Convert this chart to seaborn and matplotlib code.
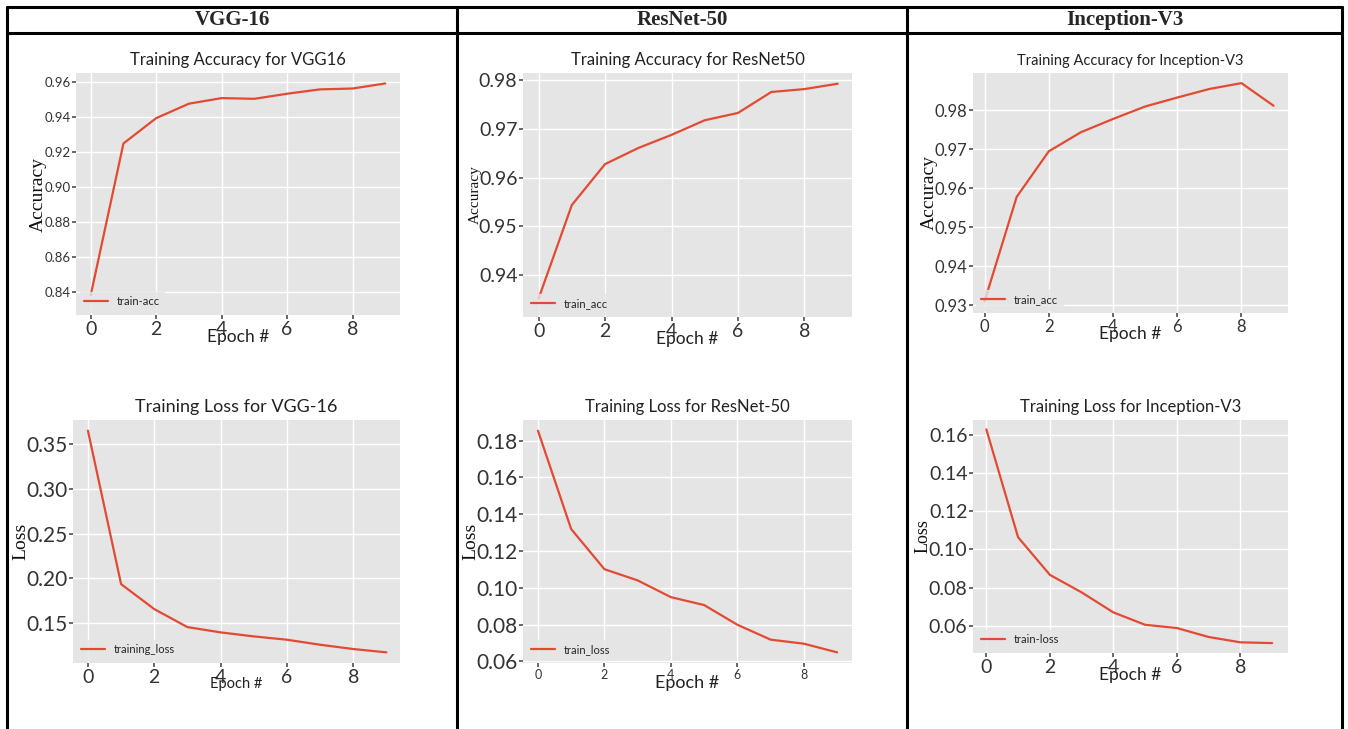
import numpy as np
import pandas as pd
import seaborn as sns
import matplotlib.pyplot as plt
from matplotlib.lines import Line2D

epochs = list(range(10))

vgg_acc = [0.838, 0.925, 0.9395, 0.9478, 0.951, 0.9506, 0.9535, 0.956, 0.9565, 0.9594]
resnet_acc = [0.9352, 0.9544, 0.9628, 0.9661, 0.9688, 0.9718, 0.9733, 0.9776, 0.9782, 0.9793]
incep_acc = [0.931, 0.9578, 0.9695, 0.9744, 0.9778, 0.981, 0.9833, 0.9855, 0.987, 0.9812]

vgg_loss = [0.3649, 0.1935, 0.1656, 0.1455, 0.1396, 0.1351, 0.1314, 0.1258, 0.121, 0.1173]
resnet_loss = [0.1854, 0.1319, 0.1101, 0.104, 0.0949, 0.0906, 0.0799, 0.0718, 0.0696, 0.0649]
incep_loss = [0.163, 0.1064, 0.0867, 0.0775, 0.067, 0.0605, 0.0588, 0.0541, 0.0513, 0.0509]

headers = ["VGG-16", "ResNet-50", "Inception-V3"]

sns.set_theme(style="darkgrid", rc={
    "axes.facecolor": "#E5E5E5",
    "grid.color": "white",
    "grid.linewidth": 1.0,
    "xtick.color": "#555555",
    "ytick.color": "#555555",
    "xtick.major.size": 3,
    "ytick.major.size": 3,
    "xtick.bottom": True,
    "ytick.left": True,
})
plt.rcParams['font.family'] = ['Lato', 'DejaVu Sans']

fig = plt.figure(figsize=(13.48, 7.29), dpi=100)
W, H = 1348, 729


def box(x0, x1, y0, y1):
    return [x0 / W, 1 - y1 / H, (x1 - x0) / W, (y1 - y0) / H]


def panel(rect, values, title, ylabel, legend, ylim, xlim, ticks,
          tsize, ytsize, xtsize, ylsize, xlsize, xlpad):
    ax = fig.add_axes(rect)
    df = pd.DataFrame({"epoch": epochs, "value": values})
    sns.lineplot(data=df, x="epoch", y="value", ax=ax, color="#E24A33",
                 linewidth=1.6, label=legend)
    ax.set_xlim(*xlim)
    ax.set_ylim(*ylim)
    ax.set_xticks([0, 2, 4, 6, 8])
    ax.set_yticks(ticks)
    ax.yaxis.set_major_formatter(plt.FormatStrFormatter("%.2f"))
    ax.tick_params(axis="x", labelsize=xtsize, pad=1, labelcolor="#333333")
    ax.tick_params(axis="y", labelsize=ytsize, pad=1, labelcolor="#333333")
    ax.set_title(title, fontsize=tsize, color="#222222", pad=6)
    ax.set_ylabel(ylabel, family="Liberation Serif", fontsize=ylsize,
                  color="#111111", labelpad=-2)
    ax.set_xlabel("Epoch #", fontsize=xlsize, color="#222222", labelpad=xlpad)
    leg = ax.legend(loc="lower left", fontsize=8, frameon=True,
                    handlelength=2.2, borderaxespad=0.3)
    leg.get_frame().set_facecolor("#E5E5E5")
    leg.get_frame().set_edgecolor("#E5E5E5")
    for s in ax.spines.values():
        s.set_visible(False)
    return ax


panel(box(76, 400, 73, 315), vgg_acc, "Training Accuracy for VGG16", "Accuracy",
      "train-acc", (0.8266, 0.9654), (-0.45, 9.45),
      [0.84, 0.86, 0.88, 0.90, 0.92, 0.94, 0.96],
      12, 9.5, 14, 14, 12.5, -6)
panel(box(523, 852, 73, 317), resnet_acc, "Training Accuracy for ResNet50", "Accuracy",
      "train_acc", (0.9314, 0.9815), (-0.47, 9.43),
      [0.94, 0.95, 0.96, 0.97, 0.98],
      12, 14, 14, 11, 12.5, -6)
panel(box(973, 1288, 73, 313), incep_acc, "Training Accuracy for Inception-V3", "Accuracy",
      "train_acc", (0.928, 0.9896), (-0.36, 9.45),
      [0.93, 0.94, 0.95, 0.96, 0.97, 0.98],
      10.5, 12, 12, 14, 12.5, -6)
panel(box(73, 400, 420, 663), vgg_loss, "Training Loss for VGG-16", "Loss",
      "training_loss", (0.1054, 0.3768), (-0.45, 9.41),
      [0.15, 0.20, 0.25, 0.30, 0.35],
      13, 15, 14, 14, 10.5, -6)
panel(box(523, 852, 420, 663), resnet_loss, "Training Loss for ResNet-50", "Loss",
      "train_loss", (0.0591, 0.1912), (-0.45, 9.45),
      [0.06, 0.08, 0.10, 0.12, 0.14, 0.16, 0.18],
      12, 15, 9, 14, 13, -4)
panel(box(973, 1288, 420, 653), incep_loss, "Training Loss for Inception-V3", "Loss",
      "train-loss", (0.0457, 0.1679), (-0.42, 9.5),
      [0.06, 0.08, 0.10, 0.12, 0.14, 0.16],
      12, 14, 14, 13, 12.5, -6)


# table frame
def hline(y, x0=7, x1=1342):
    fig.add_artist(Line2D([x0 / W, x1 / W], [1 - y / H, 1 - y / H], color="black", lw=2.2))


def vline(x, y0=7, y1=729):
    fig.add_artist(Line2D([x / W, x / W], [1 - y0 / H, 1 - y1 / H], color="black", lw=2.2))


hline(7)
hline(33)
for x in [7, 457, 907, 1342]:
    vline(x)

for cx, h in zip([232, 682, 1125], headers):
    fig.text(cx / W, 1 - 20 / H, h, ha="center", va="center",
             family="Liberation Serif", fontweight="bold", fontsize=15)

fig.savefig("out.png", dpi=100)
